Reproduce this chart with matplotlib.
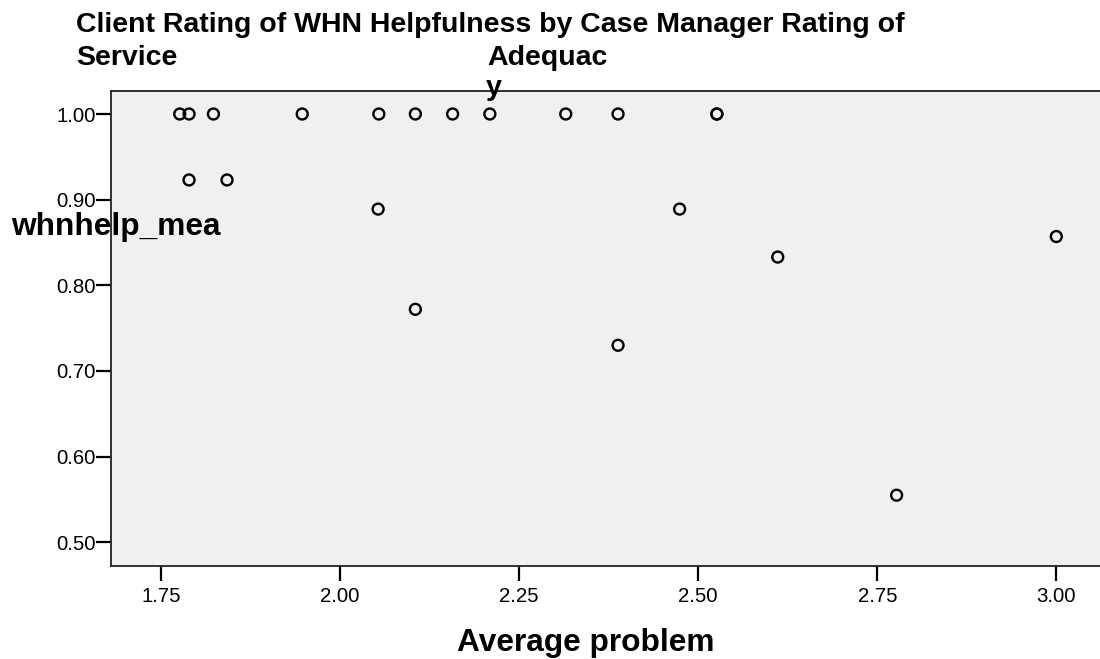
import matplotlib
matplotlib.use("Agg")
import matplotlib.pyplot as plt

# case manager rating (x) vs client rating (y)
avg_problem = [1.776, 1.789, 1.823, 1.947, 2.054, 2.105, 2.157, 2.209,
               2.315, 2.388, 2.526, 2.526,
               1.789, 1.842,
               2.053, 2.474,
               2.105, 2.388, 2.611, 3.000, 2.777]
whnhelp_mean = [1.0, 1.0, 1.0, 1.0, 1.0, 1.0, 1.0, 1.0,
                1.0, 1.0, 1.0, 1.0,
                0.923, 0.923,
                0.889, 0.889,
                0.772, 0.730, 0.833, 0.857, 0.555]

x_ticks = [1.75, 2.00, 2.25, 2.50, 2.75, 3.00]
y_ticks = [0.50, 0.60, 0.70, 0.80, 0.90, 1.00]

W, H = 1100, 659

plt.rcParams['font.family'] = ['Liberation Sans', 'DejaVu Sans']

fig = plt.figure(figsize=(W / 100, H / 100), dpi=100)
ax = fig.add_axes([111 / W, 1 - 565.7 / H, 1 - 111 / W, (565.7 - 90.7) / H])
ax.set_facecolor("#f0f0f0")

ax.scatter(avg_problem, whnhelp_mean, s=62, facecolors="none",
           edgecolors="black", linewidths=1.7, zorder=3)

ax.set_xlim(1.68, 3.061)
ax.set_ylim(0.4727, 1.0272)
ax.set_xticks(x_ticks)
ax.set_xticklabels(["%.2f" % v for v in x_ticks])
ax.set_yticks(y_ticks)
ax.set_yticklabels(["%.2f" % v for v in y_ticks])
ax.tick_params(axis="both", direction="out", length=11, width=1.6,
               labelsize=14.7, colors="black")
ax.tick_params(axis="x", pad=4)
ax.tick_params(axis="y", pad=0)

ax.spines["right"].set_visible(False)
for side in ["left", "top", "bottom"]:
    ax.spines[side].set_linewidth(1.3)
    ax.spines[side].set_color("#222222")

# title, wrapped the way the original was
tfont = dict(fontsize=20.5, fontweight="bold", va="baseline", ha="left")
fig.text(76 / W, 1 - 32 / H,
         "Client Rating of WHN Helpfulness by Case Manager Rating of", **tfont)
fig.text(76 / W, 1 - 65 / H, "Service", **tfont)
fig.text(487 / W, 1 - 65 / H, "Adequac", **tfont)
fig.text(486 / W, 1 - 95 / H, "y", **tfont)

lfont = dict(fontsize=22.8, fontweight="bold", va="baseline")
fig.text(11 / W, 1 - 235 / H, "whnhelp_mea", ha="left", **lfont)
fig.text(586 / W, 1 - 651 / H, "Average problem", ha="center", **lfont)

fig.savefig("out.png", dpi=100)
